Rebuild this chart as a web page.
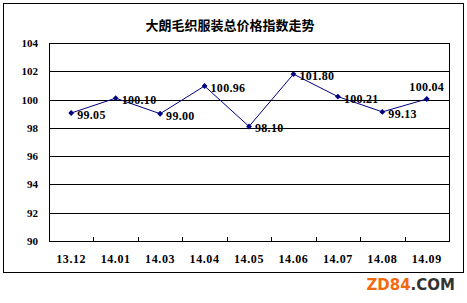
<!DOCTYPE html>
<html>
<head>
<meta charset="utf-8">
<script src="https://cdn.jsdelivr.net/npm/d3@7"></script>
<style>
  body { margin: 0; background: #fff; }
  svg text { font-family: "Liberation Serif", "Times New Roman", serif; font-weight: bold; }
</style>
</head>
<body>
<script>
// chart data
var months = ["13.12", "14.01", "14.03", "14.04", "14.05", "14.06", "14.07", "14.08", "14.09"];
var values = [99.05, 100.10, 99.00, 100.96, 98.10, 101.80, 100.21, 99.13, 100.04];
var yTicks = [90, 92, 94, 96, 98, 100, 102, 104];
var title = "大朗毛织服装总价格指数走势";

var width = 467;
var height = 303;
var pLeft = 49, pRight = 449, pTop = 43, pBottom = 241;

var svg = d3
  .select("body")
  .append("svg")
  .attr("width", width)
  .attr("height", height);

// outer frame
svg
  .append("rect")
  .attr("x", 3.5)
  .attr("y", 3.5)
  .attr("width", 460)
  .attr("height", 269)
  .attr("fill", "#fff")
  .attr("stroke", "#000")
  .attr("stroke-width", 1);

svg
  .append("text")
  .attr("x", 230)
  .attr("y", 30)
  .attr("text-anchor", "middle")
  .attr("font-size", 13)
  .style("font-family", "'Noto Sans CJK SC', sans-serif")
  .text(title);

var xScale = d3
  .scaleBand()
  .domain(months)
  .range([pLeft, pRight]);
var yScale = d3
  .scaleLinear()
  .domain([90, 104])
  .range([pBottom, pTop]);

// gridlines
svg
  .selectAll(".grid")
  .data(yTicks)
  .enter()
  .append("line")
  .attr("x1", pLeft)
  .attr("x2", pRight)
  .attr("y1", function(d) { return Math.round(yScale(d)) + 0.5; })
  .attr("y2", function(d) { return Math.round(yScale(d)) + 0.5; })
  .attr("stroke", "#000");

// plot border
svg
  .append("rect")
  .attr("x", pLeft + 0.5)
  .attr("y", pTop + 0.5)
  .attr("width", pRight - pLeft)
  .attr("height", pBottom - pTop)
  .attr("fill", "none")
  .attr("stroke", "#000");

// y labels
svg
  .selectAll(".ylab")
  .data(yTicks)
  .enter()
  .append("text")
  .attr("x", 38)
  .attr("y", function(d) { return yScale(d) + 4; })
  .attr("text-anchor", "end")
  .attr("font-size", 11)
  .text(function(d) { return d; });

// x ticks between categories
svg
  .selectAll(".xtick")
  .data(months.slice(1))
  .enter()
  .append("line")
  .attr("x1", function(d) { return Math.round(xScale(d)) + 0.5; })
  .attr("x2", function(d) { return Math.round(xScale(d)) + 0.5; })
  .attr("y1", pBottom - 4)
  .attr("y2", pBottom)
  .attr("stroke", "#000");

svg
  .selectAll(".xlab")
  .data(months)
  .enter()
  .append("text")
  .attr("x", function(d) { return xScale(d) + xScale.bandwidth() / 2; })
  .attr("y", 263)
  .attr("text-anchor", "middle")
  .attr("font-size", 12)
  .attr("letter-spacing", 0.6)
  .text(function(d) { return d; });

// line
var line = d3
  .line()
  .x(function(d, i) { return xScale(months[i]) + xScale.bandwidth() / 2; })
  .y(function(d) { return yScale(d); });
svg
  .append("path")
  .attr("d", line(values))
  .attr("fill", "none")
  .attr("stroke", "#000080")
  .attr("stroke-width", 1);

svg
  .selectAll(".pt")
  .data(values)
  .enter()
  .append("path")
  .attr("d", d3.symbol().type(d3.symbolDiamond2).size(22))
  .attr("transform", function(d, i) {
    return "translate(" + (xScale(months[i]) + xScale.bandwidth() / 2) + "," + yScale(d) + ")";
  })
  .attr("fill", "#000080");

// value labels
svg
  .selectAll(".vlab")
  .data(values)
  .enter()
  .append("text")
  .attr("x", function(d, i) {
    var cx = xScale(months[i]) + xScale.bandwidth() / 2;
    return i == values.length - 1 ? cx : cx + 6;
  })
  .attr("y", function(d, i) {
    return i == values.length - 1 ? yScale(d) - 8 : yScale(d) + 6;
  })
  .attr("text-anchor", function(d, i) { return i == values.length - 1 ? "middle" : "start"; })
  .attr("font-size", 12)
  .attr("letter-spacing", 0.3)
  .text(function(d) { return d.toFixed(2); });

// watermark
var wm = svg
  .append("text")
  .attr("x", 455)
  .attr("y", 290)
  .attr("text-anchor", "end")
  .attr("font-size", 15)
  .style("font-family", "'DejaVu Sans', sans-serif");
wm.append("tspan").attr("fill", "#f26a10").text("ZD84");
wm.append("tspan").attr("fill", "#333").text(".COM");
</script>
</body>
</html>
